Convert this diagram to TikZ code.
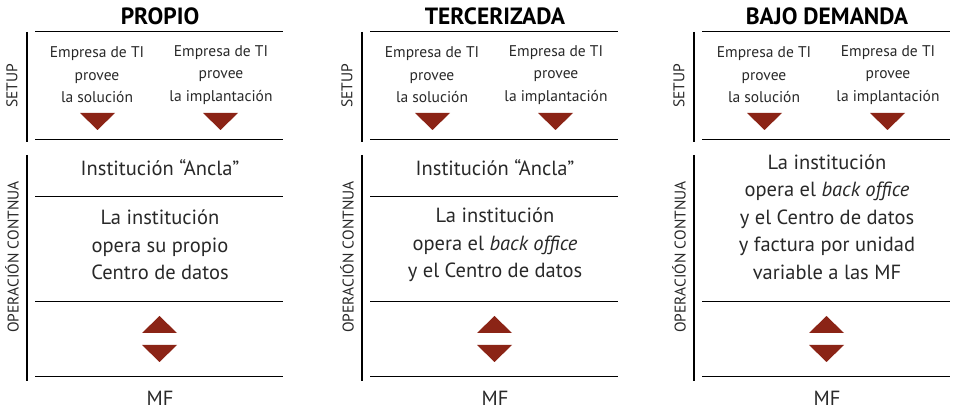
\documentclass[tikz,border=0pt]{standalone}
\usepackage{fontspec}
\setmainfont{PT Sans}
\definecolor{trired}{RGB}{139,36,22}
\definecolor{txtgray}{RGB}{40,40,40}

\tikzset{
	bar/.style={line width=2.6pt},
	rule/.style={line width=1pt},
	head/.style={font=\bfseries\fontsize{23.5}{25}\selectfont},
	side/.style={rotate=90, text=txtgray, font=\fontsize{15.5}{17}\selectfont},
	small/.style={align=center, text=txtgray, font=\fontsize{15.5}{22.5}\selectfont},
	big/.style={align=center, text=txtgray, font=\fontsize{20.5}{27.5}\selectfont}
}

\begin{document}
\begin{tikzpicture}[x=1pt, y=-1pt]
		%%%%% START %%%%%
		\useasboundingbox (0, 0) rectangle (953, 419);
		
		\foreach \dx/\name/\title in {0/propio/PROPIO, 335/terce/TERCERIZADA, 667/bajo/BAJO DEMANDA}{
			\begin{scope}[xshift=\dx]
				\node[head] (\name-title) at (160, 16) {\title};
				
				\draw[bar] (27, 32) -- (27, 142);
				\draw[bar] (27, 155) -- (27, 381);
				\node[side] (\name-setup) at (12, 86) {SETUP};
				\node[side] (\name-op) at (12, 257) {OPERACIÓN CONTNUA};
				
				\draw[rule] (35, 32) -- (283, 32);
				\draw[rule] (35, 140) -- (283, 140);
				\draw[rule] (35, 302) -- (283, 302);
				\draw[rule] (35, 377) -- (283, 377);
				
				\node[small] (\name-sol) at (97, 75) {Empresa de TI\\provee\\la solución};
				\node[small] (\name-imp) at (221, 75) {Empresa de TI\\provee\\la implantación};
				\fill[trired] (80, 113) -- (115, 113) -- (97.5, 130) -- cycle;
				\fill[trired] (203, 113) -- (238, 113) -- (220.5, 130) -- cycle;
				
				\fill[trired] (142, 333) -- (177, 333) -- (159.5, 316) -- cycle;
				\fill[trired] (142, 345) -- (177, 345) -- (159.5, 362) -- cycle;
				
				\node[big] (\name-mf) at (160, 398) {MF};
			\end{scope}
		}
		
		% propio
		\draw[rule] (35, 197) -- (283, 197);
		\node[big] (propio-ancla) at (160, 168) {Institución “Ancla”};
		\node[big] (propio-ops) at (160, 245) {La institución\\opera su propio\\Centro de datos};
		
		% tercerizada
		\draw[rule] (370, 197) -- (618, 197);
		\node[big] (terce-ancla) at (495, 168) {Institución “Ancla”};
		\node[big] (terce-ops) at (495, 245) {La institución\\opera el \textit{back office}\\y el Centro de datos};
		
		% bajo demanda
		\node[big] (bajo-ops) at (827, 217) {La institución\\opera el \textit{back office}\\y el Centro de datos\\y factura por unidad\\variable a las MF};
		
		%%%%% END %%%%%
\end{tikzpicture}
\end{document}
